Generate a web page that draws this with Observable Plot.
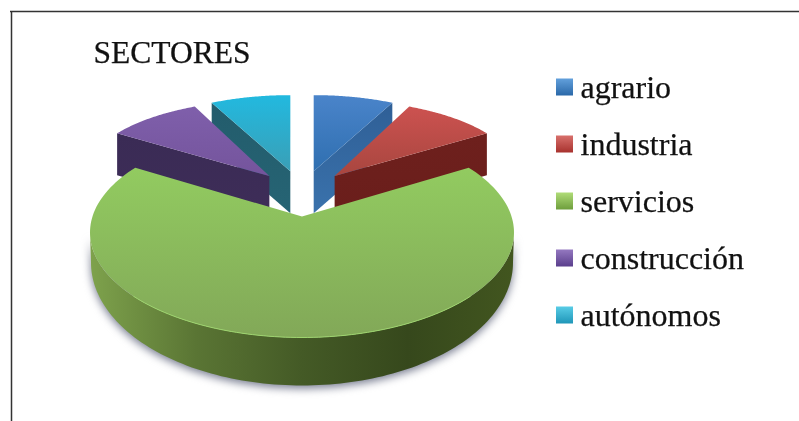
<!DOCTYPE html>
<html><head><meta charset="utf-8">
<script src="https://cdn.jsdelivr.net/npm/d3@7"></script>
<script src="https://cdn.jsdelivr.net/npm/@observablehq/plot@0.6"></script>
<style>
html,body{margin:0;padding:0;background:#fff}
#chart{position:relative;width:799px;height:421px;overflow:hidden}
#chart svg{display:block;filter:blur(0.7px)}
.shadow{filter:blur(4px)}
</style></head><body><div id="chart"></div>
<script>
const title = "SECTORES";
const sectors = ["agrario","industria","servicios","construcción","autónomos"];
const shares = [7.2,7.2,71.2,7.2,7.2];

// drawing styles, one gradient per face: id -> [x2,y2,[stops]]
const grads = {
  top0:[0,1,["#4a84ca","#2f6fb0"]], side0:[0,1,["#2f5f96","#3a72ac"]],
  top1:[0,1,["#cc5250","#a8463f"]], side1:[0,1,["#6e201d","#6a1e1b"]],
  top2:[0,1,["#92cb60","#82a858"]], side2:[1,0,["#7ea24c","#5a7534","#445a26","#36481c","#42561f"]],
  top3:[0,1,["#7f5fab","#74549c"]], side3:[0,1,["#3a2b55","#3e2d58"]],
  top4:[0,1,["#22b9df","#3a9fb6"]], side4:[0,1,["#235c6c","#266474"]],
  sw0:[0,1,["#62a0dc","#2a68a8"]], sw1:[0,1,["#d8706c","#a8322e"]], sw2:[0,1,["#b0dc78","#6e9e3c"]],
  sw3:[0,1,["#9478c0","#5a3e8c"]], sw4:[0,1,["#58cce6","#1f96b8"]]
};

// layout of the tilted, exploded pie
const O = {x:301.5,y:195}, ex = 52, ey = 25;
const far = {rx:180,ry:76,depth:42};
const sideSlice = {rx:184,before:2,after:4}; // perspective stretch of the slices next to the large one
const near = {rx:212,ry:105,drop:16,wallCy:262,wallRy:123};
const rad = d => d*Math.PI/180;

let acc = 0;
const slices = shares.map((v,i)=>{
  const a0 = acc/100*360; acc += v; const a1 = acc/100*360;
  const mid = (a0+a1)/2;
  const apex = {x:O.x+ex*Math.sin(rad(mid)), y:O.y-ey*Math.cos(rad(mid))};
  return {i,a0,a1,mid,apex};
});
slices[2].apex.y -= 4;

const arc = (cx,cy,rx,ry,a0,a1,n=60)=>d3.range(n+1).map(k=>{
  const t = rad(a0+(a1-a0)*k/n);
  return {x:cx+rx*Math.sin(t), y:cy-ry*Math.cos(t)};
});
const poly = (pts,fill,opts={})=>Plot.line(pts,{x:"x",y:"y",fill,stroke:"none",curve:"linear",...opts});
const down = (p,d)=>({x:p.x,y:p.y+d});

const marks = [];
// far slices, back to front
const farFace = s=>{
  const A=s.apex;
  let pts;
  if (s.i===1) pts=arc(A.x,A.y,sideSlice.rx,far.ry,s.a0-sideSlice.before,s.a1+sideSlice.after);
  else if (s.i===3) pts=arc(A.x,A.y,sideSlice.rx,far.ry,s.a0-sideSlice.after,s.a1+sideSlice.before);
  else pts=arc(A.x,A.y,far.rx,far.ry,s.a0,s.a1);
  return {A,pts};
};
for (const i of [4,0,3,1]) {
  const s=slices[i], {A,pts}=farFace(s);
  const edge = (i===4||i===3) ? pts[0] : pts[pts.length-1];
  marks.push(poly([A,edge,down(edge,far.depth),down(A,far.depth)],`url(#side${i})`));
  marks.push(poly([A,...pts],`url(#top${i})`));
}
// near slice
const g=slices[2], gc={x:g.apex.x,y:g.apex.y+near.drop};
const gTop=arc(gc.x,gc.y,near.rx,near.ry,g.a0,g.a1,160);
const wallTop=arc(gc.x,gc.y,near.rx,near.ry,90,270,120);
const wallBot=arc(gc.x,near.wallCy,near.rx-1,near.wallRy,90,270,120);
const wall=[...wallTop,...wallBot.slice().reverse()];
marks.unshift(poly(wallBot.map(p=>({x:p.x,y:p.y+3})).concat(wallTop.slice().reverse()),"#7a7f92",{className:"shadow"}));
marks.push(poly(wall,"url(#side2)"));
marks.push(poly([g.apex,...gTop],"url(#top2)"));
marks.push(Plot.line(wallTop.slice(25,96),{x:"x",y:"y",stroke:"#9ed56e",strokeWidth:1}));

// title and legend
const legendY = sectors.map((_,i)=>87+57*i);
const legend = sectors.map((name,i)=>({name,i,y:legendY[i]}));
marks.push(Plot.text([title],{x:()=>93,y:()=>52,text:d=>d,textAnchor:"start",fontSize:31.5,fontFamily:"Liberation Serif",fill:"#111",stroke:"#111",strokeWidth:0.25}));
sectors.forEach((_,i)=>marks.push(Plot.rect([legend[i]],{x1:()=>556,x2:()=>573,y1:d=>d.y-8.5,y2:d=>d.y+8.5,fill:`url(#sw${i})`})));
marks.push(Plot.text(legend,{x:()=>580,y:"y",text:"name",textAnchor:"start",fontSize:32,fontFamily:"Liberation Serif",fill:"#111",stroke:"#111",strokeWidth:0.25}));
// frame lines
marks.push(Plot.ruleY([11],{x1:10,x2:799,stroke:"#333",strokeWidth:1.5}));
marks.push(Plot.ruleX([11],{y1:11,y2:421,stroke:"#333",strokeWidth:1.5}));

const plot = Plot.plot({width:799,height:421,margin:0,
  x:{domain:[0,799],range:[0,799],axis:null},
  y:{domain:[0,421],range:[0,421],axis:null},
  style:{background:"#fff"},
  marks});

const defs=d3.select(plot).insert("defs",":first-child");
Object.entries(grads).forEach(([id,[x2,y2,stops]])=>{
  const lg=defs.append("linearGradient").attr("id",id).attr("x1",0).attr("y1",0).attr("x2",x2).attr("y2",y2);
  stops.forEach((c,k)=>lg.append("stop").attr("offset",k/(stops.length-1)).attr("stop-color",c));
});
document.getElementById("chart").append(plot);
</script></body></html>
